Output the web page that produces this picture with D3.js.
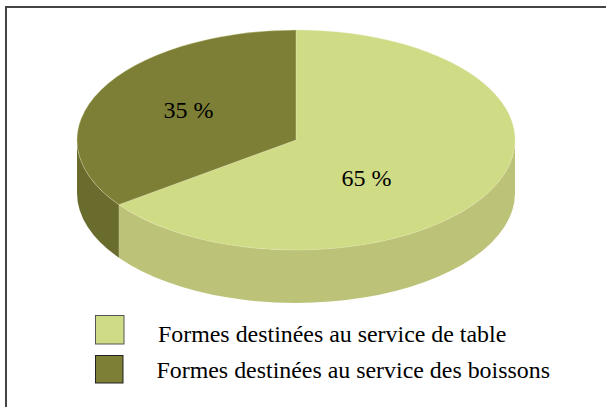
<!DOCTYPE html>
<html>
<head>
<meta charset="utf-8">
<script src="https://cdn.jsdelivr.net/npm/d3@7"></script>
<style>
    html, body { margin: 0; padding: 0; background: #fff; }
    svg { display: block; }
    text { font-family: "Liberation Serif", serif; fill: #000; }
</style>
</head>
<body>
<div id="chart"></div>
<script>
const categories = ['Formes destinées au service de table', 'Formes destinées au service des boissons'];
const shares = [65, 35];
const shareLabels = ['65 %', '35 %'];
const topColors = ['#d0db85', '#7c7f35'];
const sideColors = ['#bcc277', '#6a6c2e'];
const swatchStrokes = ['#555', '#222'];

const WIDTH = 606, HEIGHT = 407;
const CX = 296, CY = 140, RX = 219, RY = 110, DEPTH = 53;
const SQUASH = RY / RX;

const svg = d3.select('#chart').append('svg')
    .attr('width', WIDTH)
    .attr('height', HEIGHT);

// frame, only left and top show up in the picture
svg.append('path')
    .attr('d', 'M6,407V7H606')
    .attr('fill', 'none')
    .attr('stroke', '#444')
    .attr('stroke-width', 2);

const slices = d3.pie().sort(null)(shares);

// everything round is drawn as a circle, then squashed into the tilted ellipse
const disc = svg.append('g')
    .attr('transform', `translate(${CX},${CY}) scale(1,${SQUASH})`);

const arc = d3.arc().innerRadius(0).outerRadius(RX);

// wall of a slice, only the part of it facing the viewer (PI/2 to 3PI/2 from the top)
function wall(d) {
    const a0 = Math.max(d.startAngle, Math.PI / 2);
    const a1 = Math.min(d.endAngle, 3 * Math.PI / 2);
    const drop = DEPTH / SQUASH;
    const p = d3.path();
    p.arc(0, 0, RX, a0 - Math.PI / 2, a1 - Math.PI / 2);
    p.arc(0, drop, RX, a1 - Math.PI / 2, a0 - Math.PI / 2, true);
    p.closePath();
    return p.toString();
}

disc.selectAll('path.wall')
    .data(slices)
    .join('path')
    .attr('class', 'wall')
    .attr('d', wall)
    .attr('fill', (d, i) => sideColors[i]);

disc.selectAll('path.top')
    .data(slices)
    .join('path')
    .attr('class', 'top')
    .attr('d', arc)
    .attr('fill', (d, i) => topColors[i])
    .attr('stroke', '#e4e8b8')
    .attr('stroke-width', 0.5);

// share labels
const labelPos = [[366.5, 186], [188.5, 118]];
svg.selectAll('text.share')
    .data(shareLabels)
    .join('text')
    .attr('class', 'share')
    .attr('x', (d, i) => labelPos[i][0])
    .attr('y', (d, i) => labelPos[i][1])
    .attr('text-anchor', 'middle')
    .attr('font-size', 24)
    .text(d => d);

// legend
const swatchY = [315.5, 355.5];
const swatchSize = [28.5, 27.5];
const textX = [158, 156.5];
const textY = [342, 378];
const legend = svg.selectAll('g.legend')
    .data(categories)
    .join('g')
    .attr('class', 'legend');

legend.append('rect')
    .attr('x', 95.5)
    .attr('y', (d, i) => swatchY[i])
    .attr('width', (d, i) => swatchSize[i])
    .attr('height', (d, i) => swatchSize[i])
    .attr('fill', (d, i) => topColors[i])
    .attr('stroke', (d, i) => swatchStrokes[i])
    .attr('stroke-width', 1);

legend.append('text')
    .attr('x', (d, i) => textX[i])
    .attr('y', (d, i) => textY[i])
    .attr('font-size', 23.9)
    .text(d => d);
</script>
</body>
</html>
